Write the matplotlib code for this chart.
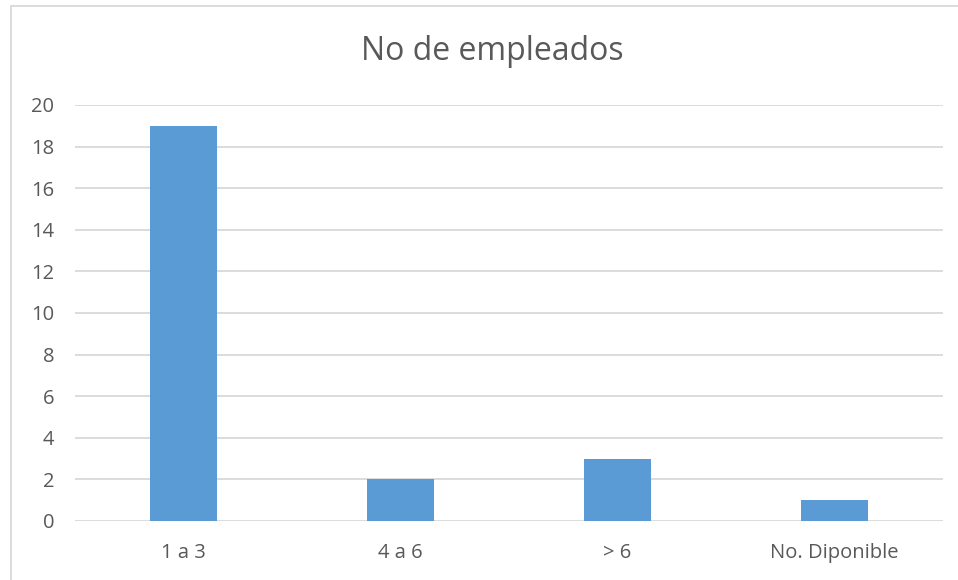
import matplotlib.pyplot as plt
from matplotlib.patches import Rectangle

categorias = ["1 a 3", "4 a 6", "> 6", "No. Diponible"]
empleados = [19, 2, 3, 1]
ticks_y = [0, 2, 4, 6, 8, 10, 12, 14, 16, 18, 20]

plt.rcParams['font.family'] = ['Open Sans', 'DejaVu Sans']
gris_texto = "#595959"

W, H = 958, 580
fig = plt.figure(figsize=(W/100, H/100), dpi=100)

# marco del grafico (cortado a la derecha y abajo)
fig.patches.append(Rectangle((11/W, -0.05), 1.1, 1.05 - 6/H,
                             transform=fig.transFigure, fill=False,
                             edgecolor="#d9d9d9", linewidth=1.3))

ax = fig.add_axes([75/W, (H-521)/H, 868/W, 416/H])
x = range(len(categorias))
ax.bar(x, empleados, width=0.31, color="#5b9bd5", zorder=3)
ax.set_xlim(-0.5, len(categorias) - 0.5)
ax.set_ylim(0, 20)
ax.set_yticks(ticks_y)
ax.set_xticks(list(x))
ax.set_xticklabels(categorias)
ax.grid(axis="y", color="#d9d9d9", linewidth=1.3, zorder=0)
for s in ax.spines.values():
    s.set_visible(False)
ax.tick_params(length=0, colors=gris_texto, labelsize=14.5)
ax.tick_params(axis="y", pad=15)
ax.tick_params(axis="x", pad=16)

fig.text(492/W, 1 - 52/H, "No de empleados", ha="center", va="center",
         fontsize=23, color=gris_texto)

fig.savefig("out.png", dpi=100)
